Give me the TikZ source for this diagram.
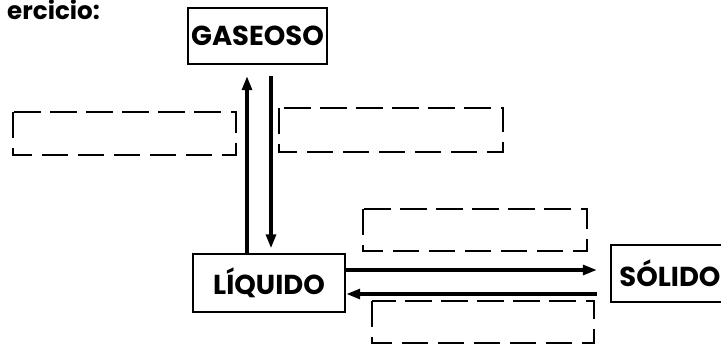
\documentclass[tikz,border=0pt]{standalone}
\usepackage{fontspec}
\setmainfont{Poppins}
\usetikzlibrary{arrows.meta}

\tikzset{
  estado/.style={draw, line width=1.3pt, inner sep=0pt,
    font=\bfseries\fontsize{15.6}{18}\selectfont},
  hueco/.style={draw, line width=1.2pt, dash pattern=on 15pt off 5.5pt},
  flecha/.style={-{Triangle[length=8pt,width=5.5pt]}, line width=2.2pt}
}

\begin{document}
\begin{tikzpicture}[x=0.02cm,y=-0.02cm]
                \clip (0,0) rectangle (721,345);
                \node[anchor=base west, font=\bfseries\fontsize{14}{16}\selectfont] (titulo) at (1,19) {ercicio:};
                \node[estado, minimum width=2.78cm, minimum height=1.12cm] (gaseoso) at (257.5,36) {GASEOSO};
                \node[estado, minimum width=3.04cm, minimum height=1.16cm] (liquido) at (269,283) {LÍQUIDO};
                \node[estado, minimum width=2.36cm, minimum height=1.14cm] (solido) at (670,273.5) {SÓLIDO};
                % huecos para rellenar
                \draw[hueco] (13,112) rectangle (236,155);
                \draw[hueco] (279,108) rectangle (503,152);
                \draw[hueco] (363,209) rectangle (587,251);
                \draw[hueco] (372,301) rectangle (594,343);
                % flechas
                \coordinate (subeFin) at (247,76);
                \coordinate (bajaIni) at (271,76);
                \coordinate (derFin) at (597,270);
                \coordinate (izqIni) at (597,294);
                \draw[flecha] (liquido.north -| subeFin) -- (subeFin);
                \draw[flecha, shorten >=2.5pt] (bajaIni) -- (liquido.north -| bajaIni);
                \draw[flecha] (liquido.east |- derFin) -- (derFin);
                \draw[flecha] (izqIni) -- (liquido.east |- izqIni);
\end{tikzpicture}
\end{document}
